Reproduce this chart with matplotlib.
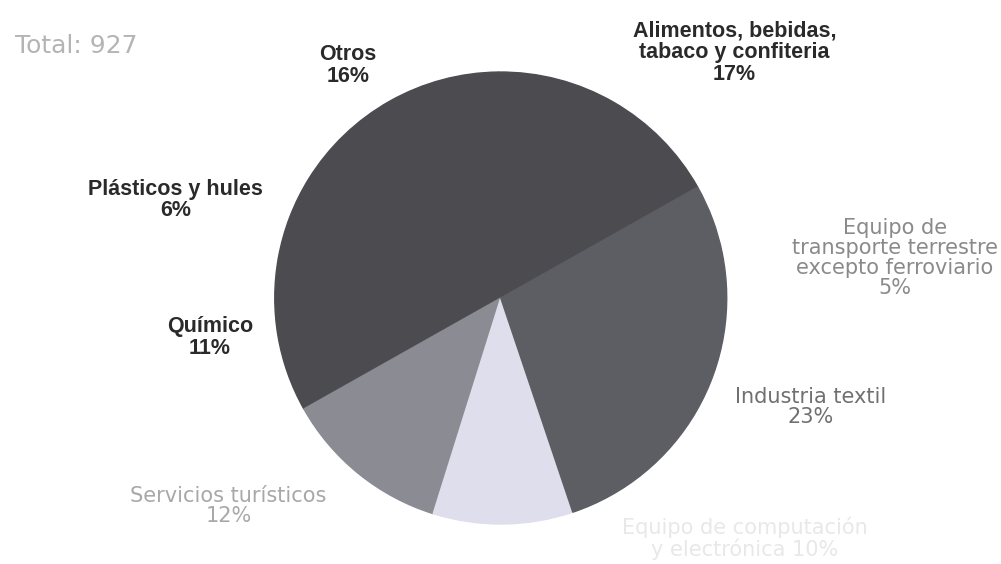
import matplotlib
matplotlib.use("Agg")
import matplotlib.pyplot as plt

plt.rcParams['font.family'] = ['Liberation Sans', 'DejaVu Sans']

# counter-clockwise from the right, starting at Alimentos
sectores = [
    "Alimentos, bebidas,\ntabaco y confiteria",
    "Otros",
    "Plásticos y hules",
    "Químico",
    "Servicios turísticos",
    "Equipo de computación\ny electrónica",
    "Industria textil",
    "Equipo de\ntransporte terrestre\nexcepto ferroviario",
]
porcentajes = [17, 16, 6, 11, 12, 10, 23, 5]
total = 927

colores = ["#4b4b50", "#4b4b50", "#4b4b50", "#4b4b50",
           "#8b8b93", "#dedeec", "#5d5d64", "#5d5d64"]
# label look: (x, y) in pie units, colour, weight, separator before the %
estilo_etiquetas = [
    (1.035, 1.085, "#2a2a2a", "bold", "\n"),
    (-0.677, 1.030, "#2a2a2a", "bold", "\n"),
    (-1.438, 0.434, "#2a2a2a", "bold", "\n"),
    (-1.288, -0.173, "#2a2a2a", "bold", "\n"),
    (-1.204, -0.920, "#a8a8a8", "normal", "\n"),
    (1.080, -1.062, "#e8e8e8", "normal", " "),
    (1.372, -0.482, "#707070", "normal", "\n"),
    (1.743, 0.175, "#8a8a8a", "normal", "\n"),
]

fig = plt.figure(figsize=(10.01, 5.64), dpi=100)
ax = fig.add_axes([0.2745, 0.0709, 0.4515, 0.8014])

cunas, _ = ax.pie(porcentajes, colors=colores, startangle=29.4,
                  counterclock=True)
for c in cunas:
    c.set_edgecolor(c.get_facecolor())
    c.set_linewidth(1.0)
ax.set_xlim(-1, 1)
ax.set_ylim(-1, 1)
ax.set_aspect('equal')
ax.axis('off')

for nombre, pct, (x, y, col, peso, sep) in zip(sectores, porcentajes, estilo_etiquetas):
    if peso == "bold":
        ax.text(x, y, f"{nombre}{sep}{pct}%", ha='center', va='center',
                fontsize=15.5, fontweight='bold', color=col,
                linespacing=1.05, clip_on=False)
    else:
        ax.text(x, y, f"{nombre}{sep}{pct}%", ha='center', va='center',
                fontsize=15, family='DejaVu Sans', color=col,
                linespacing=1.0, clip_on=False)

fig.text(0.015, 0.918, f"Total: {total}", fontsize=18, family='DejaVu Sans',
         color="#b4b4b4", ha='left', va='center')

fig.savefig("out.png", dpi=100, facecolor="white")
